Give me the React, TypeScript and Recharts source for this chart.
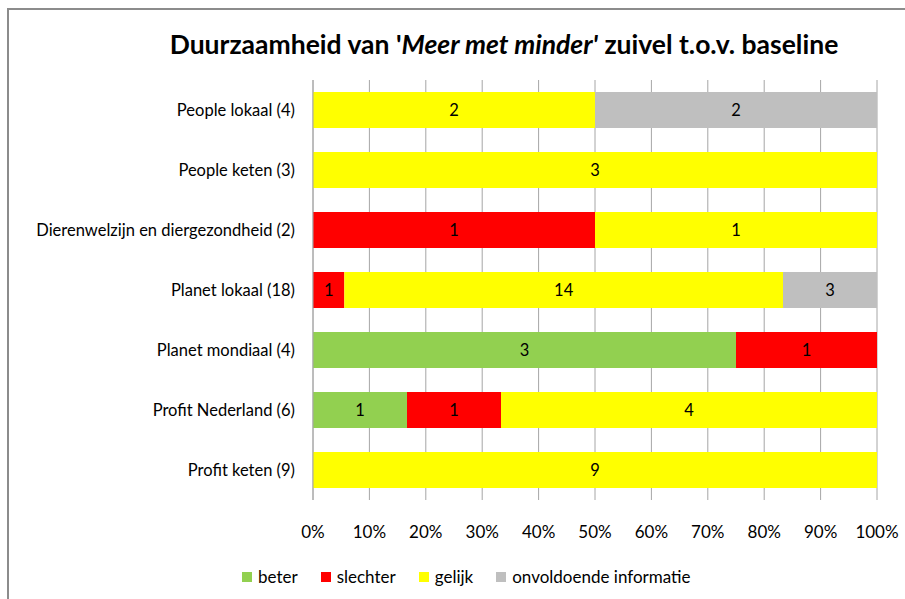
import React from 'react';
import { BarChart, Bar, XAxis, YAxis, CartesianGrid, LabelList } from 'recharts';

// categorieën (van boven naar beneden)
const categories = [
  'People lokaal (4)',
  'People keten (3)',
  'Dierenwelzijn en diergezondheid (2)',
  'Planet lokaal  (18)',
  'Planet mondiaal  (4)',
  'Profit Nederland (6)',
  'Profit keten (9)',
];

const beter = [0, 0, 0, 0, 3, 1, 0];
const slechter = [0, 0, 1, 1, 1, 1, 0];
const gelijk = [2, 3, 1, 14, 0, 4, 9];
const onvoldoende = [2, 0, 0, 3, 0, 0, 0];

const xTicks = [0, 0.1, 0.2, 0.3, 0.4, 0.5, 0.6, 0.7, 0.8, 0.9, 1];

const series = [
  { key: 'beter', name: 'beter', color: '#92D050' },
  { key: 'slechter', name: 'slechter', color: '#FF0000' },
  { key: 'gelijk', name: 'gelijk', color: '#FFFF00' },
  { key: 'onvoldoende', name: 'onvoldoende informatie', color: '#BFBFBF' },
];

const data = categories.map((name, i) => ({
  name,
  beter: beter[i],
  slechter: slechter[i],
  gelijk: gelijk[i],
  onvoldoende: onvoldoende[i],
}));

const FONT = 'Lato, "Open Sans", sans-serif';

// percentage-labels onder de as
const PercentTick = (props: any) => {
  const { x, y, payload } = props;
  return (
    <text x={x} y={y + 36} textAnchor="middle" fill="#000" fontSize={17} fontFamily={FONT}>
      {`${Math.round(payload.value * 100)}%`}
    </text>
  );
};

export default function App() {
  return (
    <div style={{ position: 'absolute', left: 0, top: 0, width: 905, height: 599, overflow: 'hidden', background: '#fff', fontFamily: FONT }}>
      <div style={{ position: 'absolute', left: 7, top: 8, width: 1000, height: 700, border: '2px solid #8c8c8c', boxSizing: 'border-box' }} />
      <div style={{ position: 'absolute', left: 0, width: 1008, top: 28, textAlign: 'center', fontSize: 26.5, fontWeight: 700, color: '#000' }}>
        Duurzaamheid van '<i>Meer met minder'</i> zuivel t.o.v. baseline
      </div>
      <div style={{ position: 'absolute', left: 0, top: 0 }}>
        <BarChart
          width={905}
          height={599}
          data={data}
          layout="vertical"
          stackOffset="expand"
          barCategoryGap="20%"
          margin={{ top: 80, right: 28, bottom: 59, left: 0 }}
        >
          <CartesianGrid horizontal={false} stroke="#a6a6a6" />
          <XAxis
            type="number"
            domain={[0, 1]}
            ticks={xTicks}
            axisLine={false}
            tickLine={false}
            tickSize={0}
            tick={<PercentTick />}
            height={40}
          />
          <YAxis
            type="category"
            dataKey="name"
            width={313}
            axisLine={{ stroke: '#a6a6a6' }}
            tickLine={false}
            tickSize={0}
            tickMargin={18}
            tick={{ fill: '#000', fontSize: 16.5, fontFamily: FONT }}
          />
          {series.map((s) => (
            <Bar key={s.key} dataKey={s.key} name={s.name} stackId="a" fill={s.color} isAnimationActive={false}>
              <LabelList
                dataKey={s.key}
                position="center"
                formatter={(v: any) => (v ? v : '')}
                style={{ fill: '#000', fontSize: 16.5, fontFamily: FONT }}
              />
            </Bar>
          ))}
        </BarChart>
      </div>
      <div style={{ position: 'absolute', left: 242, top: 566, display: 'flex', alignItems: 'center', fontSize: 17, color: '#000' }}>
        {series.map((s) => (
          <div key={s.key} style={{ display: 'flex', alignItems: 'center', marginRight: 23 }}>
            <span style={{ display: 'inline-block', width: 10, height: 10, background: s.color, marginRight: 6 }} />
            <span>{s.name}</span>
          </div>
        ))}
      </div>
    </div>
  );
}
